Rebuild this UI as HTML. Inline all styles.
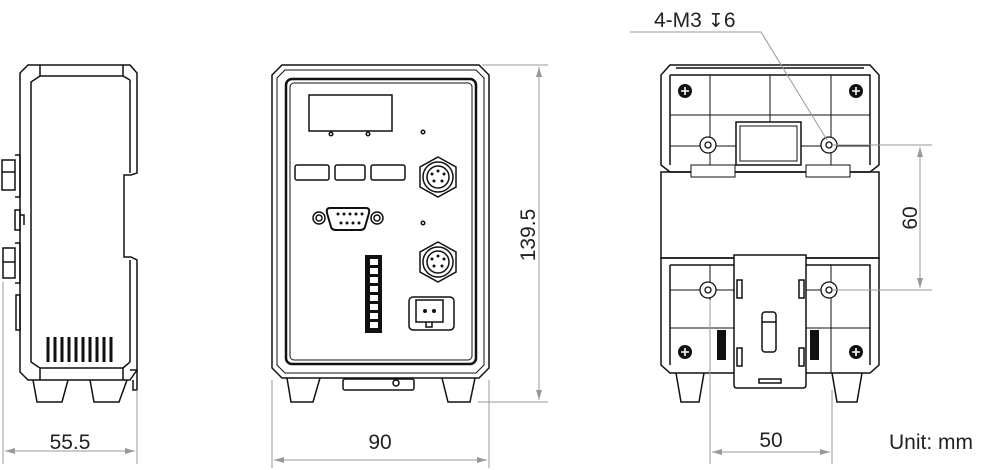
<!DOCTYPE html>
<html><head><meta charset="utf-8"><style>
html,body{margin:0;padding:0;background:#fff;width:1000px;height:470px;overflow:hidden}
svg{display:block}
text{font-family:"Liberation Sans",sans-serif;fill:#222}
</style></head><body>
<svg width="1000" height="470" viewBox="0 0 1000 470" xmlns="http://www.w3.org/2000/svg">
<defs>
<marker id="a" markerWidth="10" markerHeight="6" refX="10" refY="3" orient="auto-start-reverse" markerUnits="userSpaceOnUse"><path d="M0,0 L10,3 L0,6 z" fill="#999"/></marker>
<g id="hole"><circle r="8" fill="#fff" stroke="#111" stroke-width="1.3"/><circle r="3" fill="none" stroke="#111" stroke-width="1.3"/></g>
<g id="scr"><circle r="7" fill="#111"/><path d="M-4,0H4M0,-4V4" stroke="#fff" stroke-width="1.6"/></g>
</defs>
<g fill="none" stroke="#111" stroke-width="1.5">
<!-- SIDE VIEW -->
<path d="M28,65 H130 L137,73 V173 L131,175 H124 V257 H131 L137,260 V370 L130,380 H28 L20,372 V73 Z"/>
<path d="M40,65 V76 H123 V65 M123,76 L130,80 M40,76 L31,82 V362 L40,368 V380 M40,368 H123 V380 M123,368 L130,362 M130,80 V173 M130,260 V362"/>
<path d="M2,160 H15 V190 H2 Z M15,155 H20 V197 H15 M2,172 H15"/>
<path d="M15,210 H20 V230 H15 Z M20,215 H24 V225"/>
<path d="M3,248 H15 V278 H3 Z M15,243 H20 V283 H15 M3,262 H15"/>
<path d="M16,295 H20 V330 H16 Z"/>
<path d="M33,380 L37,402 H62 L68,380 M90,380 L94,402 H119 L127,380 M130,370 H137 V390 H133 V380"/>
</g>
<g stroke="#111" stroke-width="3">
<path d="M48,337V362M55,337V362M62,337V362M69,337V362M76,337V362M83,337V362M90,337V362M97,337V362M104,337V362M111,337V362"/>
</g>
<!-- FRONT VIEW -->
<g fill="none" stroke="#111" stroke-width="1.5">
<path d="M282,65 H479 L489,75 V368 L479,378 H282 L272,368 V75 Z"/>
<path d="M285,70 H476 L484,78 V365 L476,373 H285 L277,365 V78 Z" stroke-width="1"/>
<rect x="286" y="79" width="190" height="285" rx="6" stroke-width="2.5"/>
<rect x="290" y="83" width="182" height="277" rx="4" stroke-width="1"/>
<rect x="309" y="95" width="83" height="36"/>
<circle cx="331" cy="134" r="1.8"/><circle cx="368" cy="134" r="1.8"/><circle cx="423" cy="132" r="1.8"/><circle cx="423" cy="223" r="1.8"/>
<rect x="295" y="165" width="34" height="15" rx="2"/><rect x="335" y="165" width="30" height="15" rx="2"/><rect x="371" y="165" width="34" height="15" rx="2"/>
<path d="M438,157 L456,167 V187 L438,197 L420,187 V167 Z"/>
<circle cx="438" cy="177" r="15"/><circle cx="438" cy="177" r="11"/>
<path d="M438,242 L456,252 V272 L438,282 L420,272 V252 Z"/>
<circle cx="438" cy="262" r="15"/><circle cx="438" cy="262" r="11"/>
<circle cx="319" cy="218" r="6"/><circle cx="319" cy="218" r="3"/>
<circle cx="377" cy="218" r="6"/><circle cx="377" cy="218" r="3"/>
<path d="M330,208 H366 Q370,208 369,213 L365,227 Q364,230 360,230 H336 Q332,230 331,227 L327,213 Q326,208 330,208 Z" stroke-width="2"/>
<rect x="409" y="297" width="45" height="33" rx="4"/>
<rect x="416" y="300" width="27" height="22"/>
<path d="M426,322 V327 H432 V322"/>
<path d="M287,378 L291,402 H313 L320,378 M442,378 L448,402 H470 L475,378"/>
<rect x="343" y="379" width="71" height="11" rx="2"/>
<circle cx="396" cy="383" r="3"/>
</g>
<g fill="#111">
<circle cx="432" cy="174" r="1.5"/><circle cx="444" cy="174" r="1.5"/><circle cx="438" cy="171" r="1.5"/><circle cx="434" cy="181" r="1.5"/><circle cx="442" cy="181" r="1.5"/>
<circle cx="432" cy="259" r="1.5"/><circle cx="444" cy="259" r="1.5"/><circle cx="438" cy="256" r="1.5"/><circle cx="434" cy="266" r="1.5"/><circle cx="442" cy="266" r="1.5"/>
<circle cx="338" cy="214" r="1.5"/><circle cx="344" cy="214" r="1.5"/><circle cx="350" cy="214" r="1.5"/><circle cx="356" cy="214" r="1.5"/><circle cx="362" cy="214" r="1.5"/>
<circle cx="341" cy="223" r="1.5"/><circle cx="347" cy="223" r="1.5"/><circle cx="353" cy="223" r="1.5"/><circle cx="359" cy="223" r="1.5"/>
<circle cx="425" cy="311" r="2"/><circle cx="434" cy="311" r="2"/>
<rect x="365" y="255" width="17" height="78"/>
</g>
<g fill="#fff">
<rect x="370" y="259" width="8" height="6"/><rect x="370" y="268" width="8" height="6"/><rect x="370" y="277" width="8" height="6"/><rect x="370" y="286" width="8" height="6"/><rect x="370" y="295" width="8" height="6"/><rect x="370" y="304" width="8" height="6"/><rect x="370" y="313" width="8" height="6"/><rect x="370" y="322" width="8" height="6"/>
</g>
<!-- BACK VIEW -->
<g fill="none" stroke="#111" stroke-width="1.5">
<path d="M670,65 H870 L879,75 V165 L870,172 H670 L661,165 V75 Z"/>
<path d="M676,68 H864 M670,75 H870 V165 M670,75 V165"/>
<rect x="661" y="172" width="218" height="86"/>
<path d="M661,258 H879 V365 L870,373 H670 L661,365 Z"/>
<path d="M670,265 H870 V365 M670,265 V365"/>
</g>
<g fill="none" stroke="#111" stroke-width="1">
<path d="M710,75 V165 M770,75 V122 M831,75 V165 M670,115 H870 M670,146 H736 M801,146 H870"/>
<path d="M710,265 V373 M831,265 V373 M670,290 H734 M806,290 H870 M670,328 H734 M806,328 H870"/>
<rect x="736" y="122" width="65" height="43" stroke-width="1.5"/>
<rect x="740" y="126" width="57" height="35"/>
<rect x="691" y="165" width="44" height="12" fill="#fff"/><rect x="806" y="165" width="44" height="12" fill="#fff"/>
</g>
<use href="#hole" x="708" y="145"/><use href="#hole" x="829" y="145"/>
<use href="#hole" x="708" y="290"/><use href="#hole" x="829" y="290"/>
<use href="#scr" x="685" y="91"/><use href="#scr" x="856" y="91"/>
<use href="#scr" x="685" y="352"/><use href="#scr" x="856" y="352"/>
<g fill="none" stroke="#111" stroke-width="1.5">
<path d="M734,255 H806 V385 Q806,388 803,388 H737 Q734,388 734,385 Z" fill="#fff"/>
<rect x="762" y="312" width="14" height="40" rx="3"/>
<path d="M762,322 H776"/>
<rect x="759" y="379" width="22" height="4"/>
<rect x="737" y="280" width="5" height="18"/><rect x="799" y="280" width="5" height="18"/>
<rect x="737" y="348" width="5" height="18"/><rect x="799" y="348" width="5" height="18"/>
<path d="M676,373 L681,402 H699 L704,373 M832,373 L837,402 H857 L862,373"/>
</g>
<rect x="717" y="330" width="9" height="30" fill="#111"/><rect x="810" y="330" width="9" height="30" fill="#111"/>
<!-- DIMENSIONS -->
<g stroke="#999" stroke-width="1" fill="none">
<path d="M3,282 V464 M137,390 V464"/>
<path d="M5,451 H135" marker-start="url(#a)" marker-end="url(#a)"/>
<path d="M272,380 V468 M489,380 V468"/>
<path d="M274,460 H487" marker-start="url(#a)" marker-end="url(#a)"/>
<path d="M482,65 H548 M478,402 H548"/>
<path d="M539,67 V400" marker-start="url(#a)" marker-end="url(#a)"/>
<path d="M833,145 H932 M833,290 H932"/>
<path d="M920,147 V288" marker-start="url(#a)" marker-end="url(#a)"/>
<path d="M710,300 V464 M832,390 V464"/>
<path d="M712,452 H830" marker-start="url(#a)" marker-end="url(#a)"/>
<path d="M630,32 H761 L827,140"/>
</g>
<g font-size="21">
<text x="70" y="449" text-anchor="middle">55.5</text>
<text x="380" y="449" text-anchor="middle">90</text>
<text x="771" y="447" text-anchor="middle">50</text>
<text x="889" y="449">Unit: mm</text>
<text x="654" y="27">4-M3<tspan font-family="DejaVu Sans" font-size="19"> ↧</tspan>6</text>
<text transform="translate(535,235) rotate(-90)" text-anchor="middle">139.5</text>
<text transform="translate(917,218) rotate(-90)" text-anchor="middle">60</text>
</g>
</svg>
</body></html>
